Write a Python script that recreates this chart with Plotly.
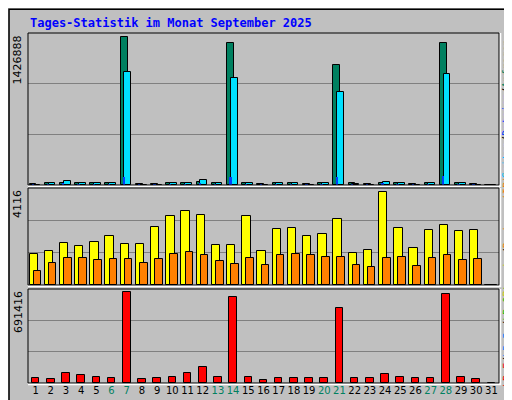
import plotly.graph_objects as go

days = list(range(1, 32))
weekend = [6, 7, 13, 14, 20, 21, 27, 28]

# top panel
anfragen = [10000, 15000, 20000, 15000, 15000, 15000, 1426888, 10000, 10000, 15000, 15000, 30000, 15000,
            1369000, 15000, 10000, 15000, 15000, 10000, 15000, 1157000, 15000, 10000, 20000, 15000, 10000,
            15000, 1369000, 15000, 10000, 0]
dateien = [0, 20000, 40000, 20000, 20000, 20000, 1090000, 0, 0, 20000, 20000, 50000, 20000,
           1030000, 20000, 0, 20000, 20000, 0, 20000, 897000, 5000, 0, 30000, 20000, 0,
           20000, 1070000, 20000, 0, 0]
seiten = [3000, 5000, 15000, 8000, 8000, 8000, 80000, 3000, 3000, 8000, 8000, 20000, 8000,
          75000, 8000, 3000, 8000, 8000, 3000, 8000, 80000, 5000, 3000, 10000, 8000, 3000,
          8000, 90000, 8000, 3000, 0]
# middle panel
besuche = [1397, 1530, 1887, 1753, 1932, 2155, 1843, 1843, 2556, 3046, 3269, 3091, 1798, 1798, 3046,
           1530, 2467, 2511, 2199, 2288, 2912, 1441, 1575, 4116, 2511, 1664, 2422, 2645, 2377, 2422, 0]
rechner = [639, 996, 1218, 1218, 1129, 1174, 1174, 996, 1174, 1397, 1486, 1352, 1085, 951, 1218,
           906, 1352, 1397, 1352, 1263, 1263, 906, 817, 1218, 1263, 862, 1218, 1352, 1129, 1174, 0]
# bottom panel
kbytes = [40000, 33000, 78000, 63000, 48000, 40000, 691416, 33000, 40000, 48000, 78000, 124000, 48000,
          653000, 48000, 25000, 40000, 40000, 40000, 40000, 570000, 40000, 40000, 71000, 48000, 40000,
          40000, 676000, 48000, 33000, 0]

W, H = 512, 400
def py(p):
    return 1 - p / H

x0, x1 = 20 / W, 491 / W
panels = [(25, 177), (180, 277), (281, 375)]

fig = go.Figure()
line = dict(color="black", width=1)
fig.add_bar(x=days, y=anfragen, marker=dict(color="#008060", line=line), width=0.45, offset=-0.4,
            xaxis="x", yaxis="y")
fig.add_bar(x=days, y=dateien, marker=dict(color="#00E0FF", line=line), width=0.45, offset=-0.15,
            xaxis="x", yaxis="y")
fig.add_bar(x=days, y=seiten, marker=dict(color="#0040FF", line=dict(width=0)), width=0.15, offset=-0.25,
            xaxis="x", yaxis="y")
fig.add_bar(x=days, y=besuche, marker=dict(color="#FFFF00", line=line), width=0.55, offset=-0.4,
            xaxis="x2", yaxis="y2")
fig.add_bar(x=days, y=rechner, marker=dict(color="#FF8000", line=line), width=0.5, offset=-0.13,
            xaxis="x2", yaxis="y2")
fig.add_bar(x=days, y=kbytes, marker=dict(color="#FF0000", line=line), width=0.5, offset=-0.25,
            xaxis="x3", yaxis="y3")

maxes = [max(anfragen), max(besuche), max(kbytes)]
fracs = [152 / 148, 290 / 277, 284 / 274]
labels = ["1426888", "4116", "691416"]
for i, ((t, b), m, f) in enumerate(zip(panels, maxes, fracs)):
    s = "" if i == 0 else str(i + 1)
    R = m * f
    fig.update_layout({
        "xaxis" + s: dict(domain=[x0, x1], range=[0.5, 31.5], anchor="y" + s, showgrid=False,
                          showticklabels=(i == 2), zeroline=False, fixedrange=True,
                          tickvals=days, tickangle=0, automargin=False,
                          ticktext=[f"<span style='color:#008060'>{d}</span>" if d in weekend else str(d)
                                    for d in days],
                          tickfont=dict(family="DejaVu Sans", size=10, color="black"), ticklen=4,
                          tickcolor="rgba(0,0,0,0)"),
        "yaxis" + s: dict(domain=[py(b), py(t)], range=[0, R], anchor="x" + s, automargin=False,
                          tickvals=[R / 3, 2 * R / 3], showticklabels=False, gridcolor="#808080",
                          gridwidth=1, zeroline=False),
    })
    fig.add_annotation(text=labels[i], textangle=-90, x=x0 - 0.003, xref="paper", xanchor="right",
                       y=py(t), yref="paper", yanchor="top", showarrow=False,
                       font=dict(family="DejaVu Sans", size=11, color="black"))
    fig.add_shape(type="rect", xref="paper", yref="paper", x0=x0, x1=x1, y0=py(b), y1=py(t),
                  line=dict(color="black", width=1))
    fig.add_shape(type="path", xref="paper", yref="paper",
                  path=f"M {x1 + 0.003},{py(t)} L {x1 + 0.003},{py(b) - 0.004} L {x0},{py(b) - 0.004}",
                  line=dict(color="white", width=1.5))

mono = "DejaVu Sans Mono"
fig.add_annotation(text="<b>Tages-Statistik im Monat September 2025</b>", x=20 / W, y=py(15),
                   xref="paper", yref="paper", xanchor="left", yanchor="middle", showarrow=False,
                   font=dict(family=mono, size=12, color="#0000FF"))
legends = [
    ("<span style='color:#00C0FF'>Seiten</span>/<span style='color:#0040FF'>Dateien</span>"
     "/<span style='color:#008060'>Anfragen</span>", panels[0]),
    ("<span style='color:#D0D000'>Besuche</span>/<span style='color:#FF8000'>Rechner (IP)</span>",
     panels[1]),
    ("<span style='color:#FF0000'>kB F</span>/<span style='color:#0080FF'>kB In</span>"
     "/<span style='color:#00C000'>kB Out</span>", panels[2]),
]
for txt, (t, b) in legends:
    fig.add_annotation(text=txt, textangle=-90, x=499 / W, y=py((t + b) / 2), xref="paper", yref="paper",
                       xanchor="center", yanchor="middle", showarrow=False,
                       font=dict(family=mono, size=10, color="black"))

fig.add_shape(type="rect", xref="paper", yref="paper", x0=0.002, x1=0.998, y0=0.003, y1=0.997,
              line=dict(color="black", width=1.5))
fig.add_shape(type="path", xref="paper", yref="paper",
              path=f"M 0.994,{py(4)} L 0.994,{py(395)} L 0.006,{py(395)}",
              line=dict(color="#808080", width=3))

fig.update_layout(width=W, height=H, margin=dict(l=0, r=0, t=0, b=0, autoexpand=False),
                  barmode="overlay", paper_bgcolor="#C0C0C0", plot_bgcolor="#C0C0C0",
                  showlegend=False, bargap=0)
fig.write_html("out.html")
